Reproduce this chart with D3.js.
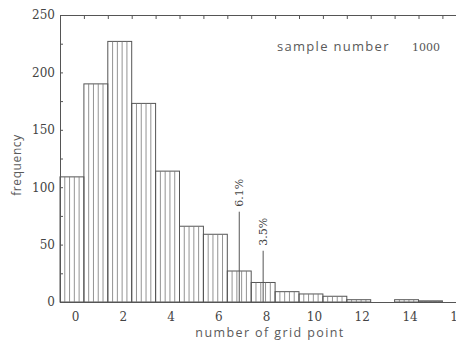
<!DOCTYPE html>
<html>
<head>
<meta charset="utf-8">
<script src="https://cdn.jsdelivr.net/npm/d3@7"></script>
<style>
  body { margin: 0; background: #fff; }
  svg { display: block; }
  .tick text { font-family: "DejaVu Serif", "Liberation Serif", serif; font-size: 12px; fill: #444; }
  .lbl { font-family: "Open Sans", "DejaVu Sans", sans-serif; fill: #5a5a5a; }
</style>
</head>
<body>
<div id="chart"></div>
<script>
// histogram of grid point counts
var bins = [0, 1, 2, 3, 4, 5, 6, 7, 8, 9, 10, 11, 12, 13, 14, 15];
var counts = [109, 190, 227, 173, 114, 66, 59, 27, 17, 9, 7, 5, 2, 0, 2, 1];
var xTicks = [0, 2, 4, 6, 8, 10, 12, 14, 16];
var yTicks = [0, 50, 100, 150, 200, 250];
var yMinor = [25, 75, 125, 175, 225];
var notes = [
    { bin: 7, label: "6.1%", top: 83 },
    { bin: 8, label: "3.5%", top: 49 }
];
var sampleLabel = "sample number";
var sampleValue = "1000";

var width = 456, height = 347;
var margin = { top: 15, left: 60, bottom: 45, right: 0 };

var svg = d3.select("#chart").append("svg")
    .attr("width", width)
    .attr("height", height);

var x = d3.scaleLinear()
    .domain([-0.5, 16.5])
    .range([margin.left, margin.left + 17 * 23.9]);

var y = d3.scaleLinear()
    .domain([0, 250])
    .range([height - margin.bottom, margin.top]);

var lineCol = "#555";
var hatchCol = "#777";

// bars with vertical hatching
var bars = svg.append("g");
bins.forEach(function(b, i) {
    var v = counts[i];
    var x0 = x(b - 0.5), x1 = x(b + 0.5);
    var g = bars.append("g");
    if (v > 0) {
        g.append("rect")
            .attr("x", x0)
            .attr("y", y(v))
            .attr("width", x1 - x0)
            .attr("height", y(0) - y(v))
            .attr("fill", "none")
            .attr("stroke", lineCol)
            .attr("stroke-width", 1);
        var hatch = [0.2, 0.4, 0.6, 0.8];
        g.selectAll("line").data(hatch).enter().append("line")
            .attr("x1", function(f) { return x(b - 0.5 + f) })
            .attr("x2", function(f) { return x(b - 0.5 + f) })
            .attr("y1", y(v))
            .attr("y2", y(0))
            .attr("stroke", hatchCol)
            .attr("stroke-width", 0.8);
    }
});

// left axis
svg.append("g")
    .attr("transform", "translate(" + margin.left + ",0)")
    .call(d3.axisLeft(y).tickValues(yTicks).tickSizeInner(-3).tickSizeOuter(0).tickPadding(5))
    .call(function(g) {
        g.select(".domain").attr("stroke", lineCol);
        g.selectAll(".tick line").attr("stroke", lineCol);
    });

svg.append("g")
    .attr("transform", "translate(" + margin.left + ",0)")
    .call(d3.axisLeft(y).tickValues(yMinor).tickSizeInner(-3).tickSizeOuter(0).tickFormat(""))
    .call(function(g) {
        g.select(".domain").remove();
        g.selectAll(".tick line").attr("stroke", lineCol);
    });

// top axis, ticks at bin edges hanging down
var edges = bins.map(function(b) { return b + 0.5 });
svg.append("g")
    .attr("transform", "translate(0," + margin.top + ")")
    .call(d3.axisBottom(x).tickValues(edges).tickSizeInner(4).tickSizeOuter(0).tickFormat(""))
    .call(function(g) {
        g.select(".domain").attr("stroke", lineCol);
        g.selectAll(".tick line").attr("stroke", lineCol);
    });

// bottom axis; labels sit a little right of the bin centres, as in the print
svg.append("g")
    .attr("transform", "translate(0," + y(0) + ")")
    .call(d3.axisBottom(x).tickValues(xTicks).tickSize(0).tickPadding(10).tickFormat(d3.format("d")))
    .call(function(g) {
        g.select(".domain").attr("stroke", lineCol);
        g.selectAll(".tick text").attr("dx", 3);
    });

// percentage markers
notes.forEach(function(n) {
    var cx = x(n.bin);
    svg.append("line")
        .attr("x1", cx).attr("x2", cx)
        .attr("y1", y(n.top) + 5)
        .attr("y2", y(0))
        .attr("stroke", lineCol)
        .attr("stroke-width", 1);
    svg.append("text")
        .attr("transform", "translate(" + (cx + 4) + "," + y(n.top) + ") rotate(-90)")
        .attr("text-anchor", "start")
        .style("font-family", "\"DejaVu Serif\", serif")
        .style("font-size", "11px")
        .style("fill", "#444")
        .text(n.label);
});

// annotations
svg.append("text")
    .attr("class", "lbl")
    .attr("x", 277)
    .attr("y", 51)
    .style("font-size", "13px")
    .style("letter-spacing", "1.3px")
    .text(sampleLabel);

svg.append("text")
    .attr("x", 412)
    .attr("y", 51)
    .style("font-family", "\"DejaVu Serif\", serif")
    .style("font-size", "11px")
    .style("fill", "#555")
    .text(sampleValue);

svg.append("text")
    .attr("class", "lbl")
    .attr("text-anchor", "middle")
    .attr("transform", "translate(21,165) rotate(-90)")
    .style("font-size", "12px")
    .style("letter-spacing", "0.6px")
    .text("frequency");

svg.append("text")
    .attr("class", "lbl")
    .attr("text-anchor", "middle")
    .attr("x", 270)
    .attr("y", 337)
    .style("font-size", "12.5px")
    .style("letter-spacing", "1.4px")
    .text("number of grid point");
</script>
</body>
</html>
